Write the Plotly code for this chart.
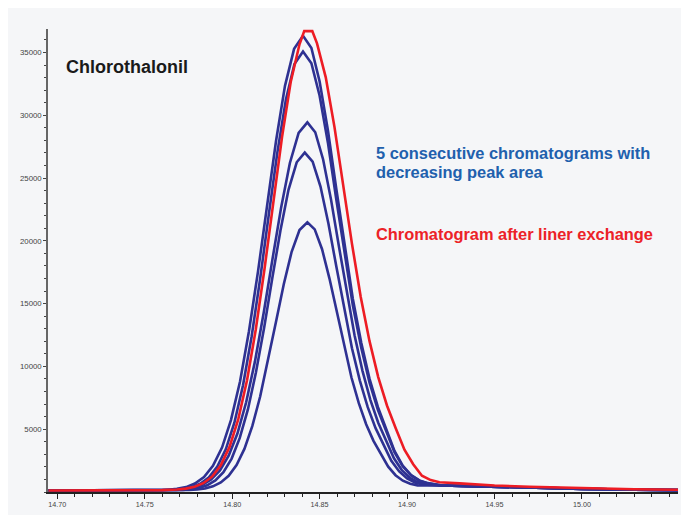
import plotly.graph_objects as go

# Retention time (min) and intensity
red_t = [14.695, 14.72, 14.745, 14.76, 14.7685, 14.7735, 14.7785, 14.7835, 14.7885, 14.7935, 14.7985,
         14.8035, 14.8085, 14.8135, 14.8185, 14.8235, 14.8285, 14.8335, 14.8385, 14.8412, 14.8458,
         14.8485, 14.8535, 14.8585, 14.8635, 14.8685, 14.8735, 14.8785, 14.8835, 14.8885, 14.8935,
         14.8985, 14.9035, 14.9085, 14.9135, 14.9185, 14.93, 14.94, 14.95, 14.97, 15.00, 15.03, 15.055]
red_v = [120, 120, 125, 150, 200, 271, 413, 698, 1221, 2127, 3589,
         5801, 8904, 12939, 17778, 23070, 28261, 32676, 35651, 36700, 36700,
         35724, 33019, 29057, 24419, 19763, 15534, 12031, 9154, 6889, 5081,
         3372, 2209, 1300, 950, 780, 690, 600, 520, 420, 300, 220, 180]

base_t = [14.695, 14.72, 14.745, 14.76]
base_v = [120, 120, 125, 145]
tail_t = [14.92, 14.93, 14.94, 14.95, 14.97, 15.00, 15.03, 15.055]
tail_v = [520, 480, 440, 400, 330, 250, 180, 150]

b1_t = [14.7633, 14.7684, 14.7736, 14.7787, 14.7839, 14.789, 14.7942, 14.7993, 14.8045, 14.8096,
        14.8148, 14.8199, 14.8251, 14.8302, 14.8354, 14.8405, 14.8453, 14.85, 14.8548, 14.8595,
        14.8643, 14.869, 14.8738, 14.8785, 14.8833, 14.888, 14.8928, 14.8975, 14.9023, 14.907, 14.9118]
b1_v = [181, 249, 391, 673, 1191, 2088, 3536, 5727, 8800, 12796,
        17589, 22831, 27971, 32344, 35291, 36330, 35363, 32685, 28761, 24167,
        19555, 15367, 11888, 9028, 6774, 4972, 3268, 2106, 1353, 922, 707]

b2_t = [14.767, 14.7719, 14.7768, 14.7817, 14.7866, 14.7915, 14.7964, 14.8013, 14.8062, 14.8111,
        14.816, 14.8209, 14.8258, 14.8307, 14.8356, 14.8405, 14.8453, 14.85, 14.8548, 14.8595,
        14.8643, 14.869, 14.8738, 14.8785, 14.8833, 14.888, 14.8928, 14.8975, 14.9023, 14.907, 14.9118]
b2_v = [179, 245, 382, 654, 1154, 2021, 3419, 5533, 8501, 12359,
        16986, 22047, 27010, 31232, 34077, 35080, 34147, 31561, 27772, 23337,
        18884, 14841, 11483, 8724, 6549, 4811, 3167, 2047, 1322, 906, 700]

b3_t = [14.768, 14.773, 14.778, 14.783, 14.788, 14.793, 14.798, 14.803, 14.808, 14.813,
        14.818, 14.823, 14.828, 14.833, 14.838, 14.843, 14.8475, 14.852, 14.8565, 14.861,
        14.8655, 14.87, 14.8745, 14.879, 14.8835, 14.888, 14.8925, 14.897, 14.9015, 14.906, 14.9105]
b3_v = [171, 227, 341, 570, 988, 1715, 2887, 4660, 7147, 10382,
        14261, 18504, 22665, 26204, 28589, 29430, 28648, 26479, 23303, 19585,
        15852, 12462, 9649, 7337, 5516, 4061, 2685, 1747, 1140, 793, 621]

b4_t = [14.7718, 14.7764, 14.7811, 14.7857, 14.7904, 14.795, 14.7997, 14.8043, 14.809, 14.8136,
        14.8183, 14.8229, 14.8276, 14.8322, 14.8369, 14.8415, 14.846, 14.8505, 14.855, 14.8595,
        14.864, 14.8685, 14.873, 14.8775, 14.882, 14.8865, 14.891, 14.8955, 14.9, 14.9045, 14.909]
b4_v = [168, 219, 324, 534, 918, 1585, 2661, 4289, 6573, 9542,
        13104, 16999, 20819, 24068, 26258, 27030, 26312, 24321, 21405, 17992,
        14565, 11452, 8873, 6753, 5084, 3751, 2491, 1633, 1079, 763, 606]

b5_t = [14.7755, 14.78, 14.7845, 14.789, 14.7935, 14.798, 14.8025, 14.807, 14.8115, 14.816,
        14.8205, 14.825, 14.8295, 14.834, 14.8385, 14.843, 14.8472, 14.8514, 14.8556, 14.8598,
        14.864, 14.8682, 14.8724, 14.8766, 14.8808, 14.885, 14.8892, 14.8934, 14.8976, 14.9018, 14.906]
b5_v = [160, 200, 284, 450, 756, 1285, 2139, 3431, 5243, 7600,
        10427, 13519, 16550, 19129, 20867, 21480, 20910, 19330, 17016, 14306,
        11586, 9116, 7071, 5391, 4069, 3014, 2017, 1338, 900, 651, 528]

x_ticks = [14.70, 14.75, 14.80, 14.85, 14.90, 14.95, 15.00]
x_tick_labels = ["14.70", "14.75", "14.80", "14.85", "14.90", "14.95", "15.00"]
y_ticks = [5000, 10000, 15000, 20000, 25000, 30000, 35000]
y_tick_labels = ["5000", "10000", "15000", "20000", "25000", "30000", "35000"]

BLUE = "#2e3192"
RED = "#ed1c24"
FONT = "Liberation Sans, Arial, sans-serif"

fig = go.Figure()
for bt, bv in [(b1_t, b1_v), (b2_t, b2_v), (b3_t, b3_v), (b4_t, b4_v), (b5_t, b5_v)]:
    fig.add_trace(go.Scatter(x=base_t + bt + tail_t, y=base_v + bv + tail_v, mode="lines",
                             line=dict(color=BLUE, width=2.6), showlegend=False, hoverinfo="skip"))
fig.add_trace(go.Scatter(x=red_t, y=red_v, mode="lines",
                         line=dict(color=RED, width=2.6), showlegend=False, hoverinfo="skip"))

fig.update_layout(
    width=681, height=507, autosize=False,
    margin=dict(l=40, r=11, t=21, b=23, pad=0),
    paper_bgcolor="#f5f6f8", plot_bgcolor="#f5f6f8",
    font=dict(family=FONT),
    xaxis=dict(range=[14.6947, 15.0549], tickmode="array", tickvals=x_ticks, ticktext=x_tick_labels,
               ticks="outside", ticklen=5, tickwidth=1, tickcolor="#222", automargin=False,
               showline=True, linecolor="#222", linewidth=1.5, showgrid=False, zeroline=False,
               tickfont=dict(size=7.2, color="#444", family=FONT),
               minor=dict(dtick=0.01, tick0=14.70, ticks="outside", ticklen=3, tickcolor="#222",
                          tickwidth=1, showgrid=False)),
    yaxis=dict(range=[0, 36870], tickmode="array", tickvals=y_ticks, ticktext=y_tick_labels,
               ticks="outside", ticklen=3, tickwidth=1, tickcolor="#444", automargin=False,
               showline=True, linecolor="#666", linewidth=1.5, showgrid=False, zeroline=False,
               tickfont=dict(size=7.8, color="#444", family=FONT),
               minor=dict(dtick=1000, tick0=0, ticks="outside", ticklen=2, tickcolor="#444",
                          tickwidth=1, showgrid=False)),
    annotations=[
        dict(text="<b>Chlorothalonil</b>", xref="paper", yref="paper", x=0.026, y=0.918,
             xanchor="left", yanchor="middle", showarrow=False,
             font=dict(size=18, color="#1a1a1a", family=FONT)),
        dict(text="<b>5 consecutive chromatograms with</b>", xref="paper", yref="paper", x=0.517, y=0.7328,
             xanchor="left", yanchor="middle", showarrow=False,
             font=dict(size=16.4, color="#2160ad", family=FONT)),
        dict(text="<b>decreasing peak area</b>", xref="paper", yref="paper", x=0.517, y=0.6905,
             xanchor="left", yanchor="middle", showarrow=False,
             font=dict(size=16.4, color="#2160ad", family=FONT)),
        dict(text="<b>Chromatogram after liner exchange</b>", xref="paper", yref="paper", x=0.517, y=0.5566,
             xanchor="left", yanchor="middle", showarrow=False,
             font=dict(size=16.4, color="#ec2227", family=FONT)),
    ],
)

fig.write_html("out.html")
